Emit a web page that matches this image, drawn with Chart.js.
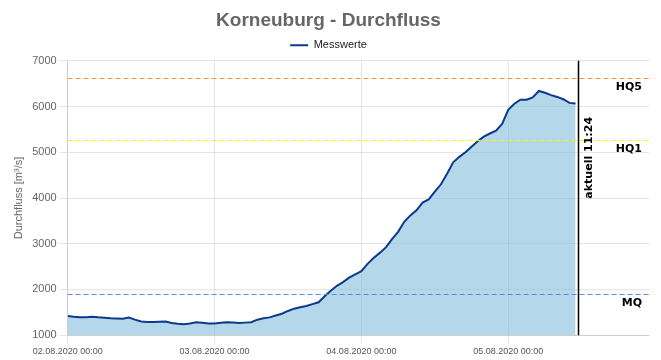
<!DOCTYPE html>
<html>
<head>
<meta charset="utf-8">
<script src="https://cdn.jsdelivr.net/npm/chart.js@4"></script>
<style>
  html, body { margin: 0; padding: 0; background: #fff; }
  #wrap { width: 661px; height: 360px; }
</style>
</head>
<body>
<div id="wrap"><canvas id="myChart"></canvas></div>
<script>
'use strict';

// hours since 02.08.2020 00:00
let hours = [];
for (let h = 0; h <= 83; h++) {
  hours.push(h);
}
let flow = [
  1420, 1405, 1395, 1390, 1405, 1390, 1380, 1370, 1365, 1360,
  1385, 1340, 1300, 1290, 1290, 1295, 1300, 1265, 1250, 1240,
  1255, 1285, 1270, 1255, 1255, 1270, 1285, 1280, 1265, 1275,
  1285, 1340, 1370, 1390, 1430, 1470, 1530, 1580, 1610, 1640,
  1680, 1720, 1850, 1970, 2080, 2160, 2260, 2330, 2400, 2560,
  2690, 2800, 2920, 3100, 3260, 3480, 3620, 3730, 3900, 3970,
  4140, 4300, 4530, 4780, 4900, 5000, 5120, 5240, 5340, 5410,
  5470, 5620, 5930, 6060, 6150, 6150, 6200, 6340, 6300, 6250,
  6210, 6160, 6080, 6065
];
let dayTicks = [0, 24, 48, 72];
let dayLabels = ['02.08.2020 00:00', '03.08.2020 00:00', '04.08.2020 00:00', '05.08.2020 00:00'];

let refNames = ['HQ5', 'HQ1', 'MQ'];
let refValues = [6630, 5270, 1900];
let refColors = ['#f39237', '#ffee00', '#5f83f2'];

let nowHour = 83.4;
let nowLabel = 'aktuell 11:24';

// **************************** PLUGIN: reference lines ****************************

let refLines = {
  id: 'refLines',
  afterDatasetsDraw(chart) {
    let c = chart.ctx;
    let area = chart.chartArea;
    let x = chart.scales.x;
    let y = chart.scales.y;
    c.save();
    c.font = 'bold 11px "DejaVu Sans"';
    c.textAlign = 'right';
    c.textBaseline = 'middle';
    for (let i = 0; i < refValues.length; i++) {
      let py = Math.round(y.getPixelForValue(refValues[i])) + 0.5;
      c.strokeStyle = refColors[i];
      c.lineWidth = 1;
      c.setLineDash([5, 3]);
      c.beginPath();
      c.moveTo(area.left, py);
      c.lineTo(area.right, py);
      c.stroke();
      c.fillStyle = '#000';
      c.fillText(refNames[i], area.right - 7, py + 9);
    }
    // current time
    let px = Math.round(x.getPixelForValue(nowHour)) + 0.5;
    c.setLineDash([]);
    c.strokeStyle = '#000';
    c.lineWidth = 1.5;
    c.beginPath();
    c.moveTo(px, area.top);
    c.lineTo(px, area.bottom);
    c.stroke();
    c.translate(px + 11, area.top + 97);
    c.rotate(-Math.PI / 2);
    c.textAlign = 'center';
    c.fillStyle = '#000';
    c.fillText(nowLabel, 0, 0);
    c.restore();
  }
};

// **************************** CHART ****************************

let ctx = document.getElementById('myChart');

let points = [];
for (let i = 0; i < hours.length; i++) {
  points.push({ x: hours[i], y: flow[i] });
}

new Chart(ctx, {
  type: 'line',
  data: {
    datasets: [{
      label: 'Messwerte',
      data: points,
      borderColor: '#0b3a8a',
      backgroundColor: 'rgba(132, 188, 220, 0.6)',
      borderWidth: 2,
      pointRadius: 0,
      fill: 'start',
      tension: 0
    }]
  },
  options: {
    responsive: true,
    maintainAspectRatio: false,
    animation: false,
    layout: { padding: { left: 8, right: 12, top: 0, bottom: 0 } },
    plugins: {
      title: {
        display: true,
        text: 'Korneuburg - Durchfluss',
        color: '#666',
        font: { family: 'Liberation Sans', size: 19, weight: 'bold' },
        padding: { top: 9, bottom: 2 }
      },
      legend: {
        labels: {
          usePointStyle: true,
          pointStyle: 'line',
          pointStyleWidth: 18,
          color: '#222',
          padding: 6,
          font: { family: 'Liberation Sans', size: 11 }
        }
      },
      tooltip: { enabled: false }
    },
    scales: {
      x: {
        type: 'linear',
        min: 0,
        max: 95,
        afterBuildTicks(axis) {
          axis.ticks = dayTicks.map(v => ({ value: v }));
        },
        ticks: {
          maxRotation: 0,
          color: '#555',
          font: { family: 'Liberation Sans', size: 9 },
          callback(value) {
            return dayLabels[dayTicks.indexOf(value)];
          }
        },
        grid: { color: 'rgba(0,0,0,0.1)' }
      },
      y: {
        min: 1000,
        max: 7000,
        ticks: {
          stepSize: 1000,
          color: '#666',
          font: { family: 'Liberation Sans', size: 11 },
          callback(value) {
            return String(value);
          }
        },
        grid: { color: 'rgba(0,0,0,0.1)' },
        title: {
          display: true,
          text: 'Durchfluss [m³/s]',
          color: '#666',
          font: { family: 'Liberation Sans', size: 11 }
        }
      }
    }
  },
  plugins: [refLines]
});
</script>
</body>
</html>
